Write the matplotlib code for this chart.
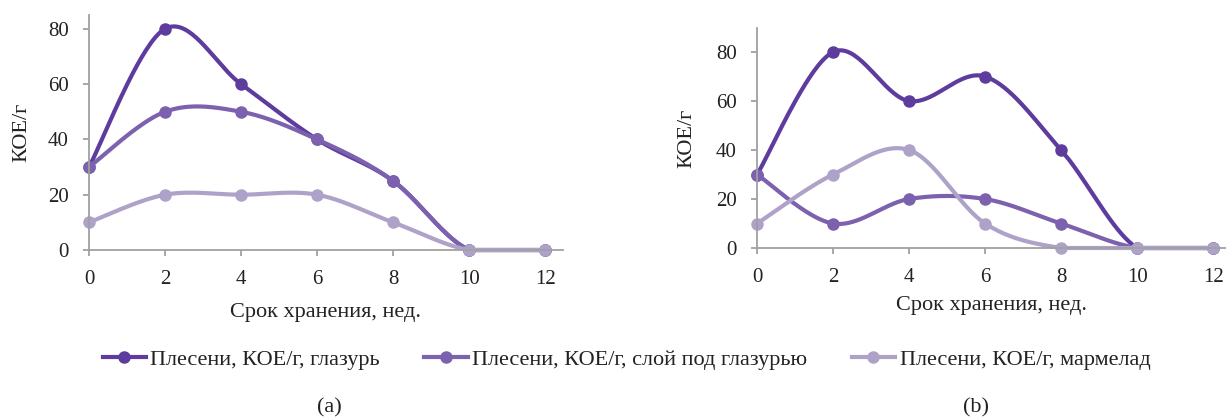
"""
Mould counts (CFU/g) over storage time, two samples side by side
"""

import numpy as np
import matplotlib.pyplot as plt

plt.rcParams['font.family'] = ['Liberation Serif', 'DejaVu Serif']

weeks = [0, 2, 4, 6, 8, 10, 12]
labels = ["Плесени, КОЕ/г, глазурь",
          "Плесени, КОЕ/г, слой под глазурью",
          "Плесени, КОЕ/г, мармелад"]

# panel (a)
a_glaze = [30, 80, 60, 40, 25, 0, 0]
a_layer = [30, 50, 50, 40, 25, 0, 0]
a_marm = [10, 20, 20, 20, 10, 0, 0]

# panel (b)
b_glaze = [30, 80, 60, 70, 40, 0, 0]
b_layer = [30, 10, 20, 20, 10, 0, 0]
b_marm = [10, 30, 40, 10, 0, 0, 0]

colors = ["#5E3C9E", "#7C62AE", "#AEA2C9"]
text_c = "#222222"


def smooth(x, y, n=40):
    # Catmull-Rom like curve (what spreadsheet "smoothed line" does)
    x = np.asarray(x, float)
    y = np.asarray(y, float)
    px = np.concatenate([[x[0]], x, [x[-1]]])
    py = np.concatenate([[y[0]], y, [y[-1]]])
    xs, ys = [], []
    t = np.linspace(0, 1, n)
    for i in range(1, len(px) - 2):
        p0 = np.array([px[i], py[i]])
        p3 = np.array([px[i + 1], py[i + 1]])
        p1 = p0 + (p3 - np.array([px[i - 1], py[i - 1]])) / 6
        p2 = p3 - (np.array([px[i + 2], py[i + 2]]) - p0) / 6
        b = ((1 - t) ** 3)[:, None] * p0 + (3 * (1 - t) ** 2 * t)[:, None] * p1 \
            + (3 * (1 - t) * t ** 2)[:, None] * p2 + (t ** 3)[:, None] * p3
        xs.append(b[:, 0])
        ys.append(b[:, 1])
    return np.concatenate(xs), np.maximum(np.concatenate(ys), 0)


def panel(ax, series, ymax, xmax, ylab_x, xlab_y):
    for vals, c, lab in zip(series, colors, labels):
        sx, sy = smooth(weeks, vals)
        ax.plot(sx, sy, color=c, lw=3, solid_capstyle="round", clip_on=False)
        ax.plot(weeks, vals, "o", color=c, ms=8, clip_on=False)
        ax.plot([], [], "-o", color=c, lw=3, ms=8, label=lab)
    ax.set_xlim(0, xmax)
    ax.set_ylim(0, ymax)
    ax.set_xticks(weeks)
    ax.set_yticks([0, 20, 40, 60, 80])
    for s in ["top", "right"]:
        ax.spines[s].set_visible(False)
    for s in ["left", "bottom"]:
        ax.spines[s].set_color("#A0A0A0")
        ax.spines[s].set_linewidth(1.3)
    ax.tick_params(colors="#A0A0A0", labelcolor=text_c, labelsize=15,
                   length=4.5, width=1.3, pad=10)
    ax.set_ylabel("КОЕ/г", fontsize=16, color=text_c)
    ax.yaxis.set_label_coords(ylab_x, 0.5)
    ax.set_xlabel("Срок хранения, нед.", fontsize=16, color=text_c, va="center")
    ax.xaxis.set_label_coords(0.5, xlab_y)


fig = plt.figure(figsize=(12.26, 4.19), dpi=100)
ax1 = fig.add_axes([0.0726, 0.4033, 0.3866, 0.561])
ax2 = fig.add_axes([0.6175, 0.4081, 0.3825, 0.525])

panel(ax1, [a_glaze, a_layer, a_marm], 85, 12.47, -0.122, -0.265)
panel(ax2, [b_glaze, b_layer, b_marm], 89.8, 12.34, -0.13, -0.262)

handles, labs = ax1.get_legend_handles_labels()
fig.legend(handles, labs, loc="center", bbox_to_anchor=(0.511, 0.141), ncol=3,
           frameon=False, fontsize=16, handlelength=1.95, handletextpad=0.2,
           columnspacing=2.0, labelcolor=text_c)

fig.text(0.269, 0.026, "(a)", ha="center", va="center", fontsize=16, color=text_c)
fig.text(0.796, 0.026, "(b)", ha="center", va="center", fontsize=16, color=text_c)

plt.savefig("out.png", dpi=100)
